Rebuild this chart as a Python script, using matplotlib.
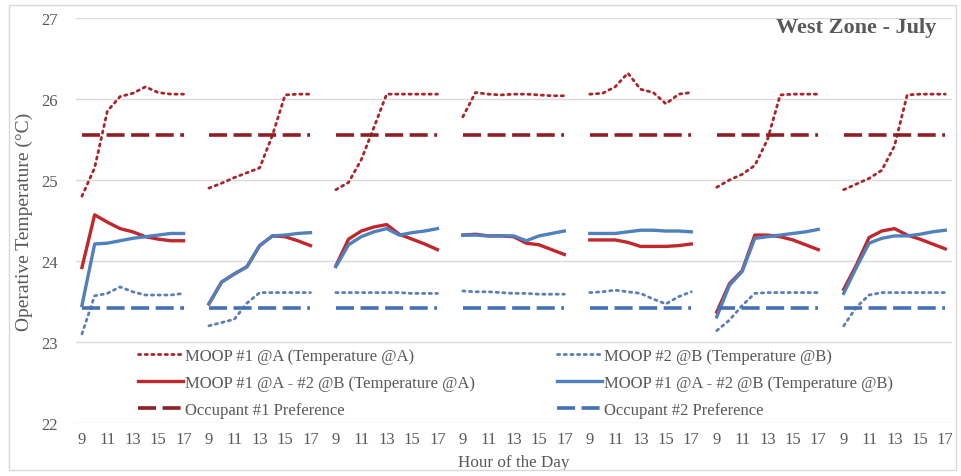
import numpy as np
import matplotlib
matplotlib.use("Agg")
import matplotlib.pyplot as plt
from matplotlib.patches import Rectangle

plt.rcParams['font.family'] = ['Liberation Serif', 'DejaVu Serif']

hours = [9, 10, 11, 12, 13, 14, 15, 16, 17]
n_days = 7

# Operative temperature (°C), one row per day, hours 9..17
moop1_A = [
    [24.80, 25.15, 25.85, 26.03, 26.07, 26.15, 26.08, 26.06, 26.06],
    [24.90, 24.96, 25.03, 25.09, 25.15, 25.55, 26.05, 26.06, 26.06],
    [24.88, 24.97, 25.25, 25.65, 26.06, 26.06, 26.06, 26.06, 26.06],
    [25.78, 26.08, 26.06, 26.05, 26.06, 26.06, 26.05, 26.04, 26.04],
    [26.06, 26.07, 26.15, 26.32, 26.12, 26.08, 25.94, 26.06, 26.08],
    [24.91, 25.00, 25.07, 25.18, 25.50, 26.05, 26.06, 26.06, 26.06],
    [24.88, 24.95, 25.02, 25.12, 25.42, 26.05, 26.06, 26.06, 26.06],
]
moop2_B = [
    [23.10, 23.57, 23.60, 23.68, 23.62, 23.58, 23.58, 23.58, 23.60],
    [23.20, 23.24, 23.28, 23.48, 23.61, 23.61, 23.61, 23.61, 23.61],
    [23.61, 23.61, 23.61, 23.61, 23.61, 23.61, 23.60, 23.60, 23.60],
    [23.63, 23.62, 23.62, 23.61, 23.60, 23.60, 23.59, 23.59, 23.59],
    [23.61, 23.62, 23.64, 23.62, 23.60, 23.53, 23.47, 23.56, 23.62],
    [23.14, 23.27, 23.45, 23.60, 23.61, 23.61, 23.61, 23.61, 23.61],
    [23.20, 23.43, 23.58, 23.61, 23.61, 23.61, 23.61, 23.61, 23.61],
]
moop12_A = [
    [23.92, 24.57, 24.48, 24.40, 24.36, 24.30, 24.27, 24.25, 24.25],
    [23.47, 23.74, 23.84, 23.93, 24.19, 24.31, 24.30, 24.25, 24.19],
    [23.94, 24.27, 24.37, 24.42, 24.45, 24.33, 24.27, 24.21, 24.14],
    [24.32, 24.33, 24.31, 24.31, 24.30, 24.22, 24.20, 24.14, 24.08],
    [24.26, 24.26, 24.26, 24.23, 24.18, 24.18, 24.18, 24.19, 24.21],
    [23.37, 23.72, 23.88, 24.32, 24.32, 24.30, 24.26, 24.20, 24.14],
    [23.65, 23.95, 24.29, 24.37, 24.40, 24.32, 24.27, 24.21, 24.15],
]
moop12_B = [
    [23.45, 24.21, 24.22, 24.25, 24.28, 24.30, 24.32, 24.34, 24.34],
    [23.47, 23.74, 23.84, 23.93, 24.19, 24.31, 24.32, 24.34, 24.35],
    [23.93, 24.20, 24.30, 24.36, 24.40, 24.32, 24.35, 24.37, 24.40],
    [24.32, 24.32, 24.31, 24.31, 24.31, 24.25, 24.31, 24.34, 24.37],
    [24.34, 24.34, 24.34, 24.36, 24.38, 24.38, 24.37, 24.37, 24.36],
    [23.31, 23.70, 23.87, 24.28, 24.30, 24.32, 24.34, 24.36, 24.39],
    [23.60, 23.92, 24.22, 24.28, 24.31, 24.31, 24.33, 24.36, 24.38],
]
occ1_pref = 25.55
occ2_pref = 23.42

labels = [
    "MOOP #1 @A (Temperature @A)",
    "MOOP #1 @A - #2 @B (Temperature @A)",
    "Occupant #1 Preference",
    "MOOP #2 @B (Temperature @B)",
    "MOOP #1 @A - #2 @B (Temperature @B)",
    "Occupant #2 Preference",
]


def flatten_days(rows):
    """Lay the days side by side with one empty slot between them."""
    arr = np.full((n_days, len(hours) + 1), np.nan)
    arr[:, :len(hours)] = np.asarray(rows, dtype=float)
    return arr.ravel()[:-1]


def const_rows(value):
    return [[value] * len(hours) for _ in range(n_days)]


x = np.arange(n_days * (len(hours) + 1) - 1)
hour_labels = [str(hours[i % 10]) if i % 10 < len(hours) else "" for i in x]

W, H = 961, 477
fig = plt.figure(figsize=(W / 100, H / 100), dpi=100)
ax = fig.add_axes([75.6 / W, 53 / H, 876 / W, 405 / H])

red_dot = '#A8252B'
red_line = '#C0282E'
red_dash = '#8E1F24'
blue_dot = '#5A7FB8'
blue_line = '#4F81BD'
blue_dash = '#4470B4'
text_col = '#595959'

dot_style = (0, (0.8, 1.6))
dash_style = (0, (5, 1.8))

l1, = ax.plot(x, flatten_days(moop1_A), color=red_dot, lw=2.0,
              linestyle=dot_style, dash_capstyle='round')
l2, = ax.plot(x, flatten_days(moop12_A), color=red_line, lw=2.4)
l3, = ax.plot(x, flatten_days(const_rows(occ1_pref)), color=red_dash, lw=2.6,
              linestyle=dash_style)
l4, = ax.plot(x, flatten_days(moop2_B), color=blue_dot, lw=2.0,
              linestyle=dot_style, dash_capstyle='round')
l5, = ax.plot(x, flatten_days(moop12_B), color=blue_line, lw=2.4)
l6, = ax.plot(x, flatten_days(const_rows(occ2_pref)), color=blue_dash, lw=2.6,
              linestyle=dash_style)

ax.set_xlim(-0.5, x[-1] + 0.5)
ax.set_ylim(22, 27)
ax.set_yticks([22, 23, 24, 25, 26, 27])
ax.set_xticks(x[::2])
ax.set_xticklabels([hour_labels[i] for i in x[::2]])
ax.grid(axis='y', color='#D9D9D9', lw=1)
ax.set_axisbelow(True)
for s in ax.spines.values():
    s.set_visible(False)
ax.tick_params(axis='both', length=0, colors=text_col, labelsize=12)
ax.tick_params(axis='y', pad=13)
ax.tick_params(axis='x', pad=6)

ax.set_ylabel("Operative Temperature (°C)", fontsize=14, color=text_col, labelpad=6)
ax.set_xlabel("Hour of the Day", fontsize=12.3, color=text_col, labelpad=5)

ax.text(0.983, 0.978, "West Zone - July", transform=ax.transAxes, ha='right',
        va='center', fontsize=16, fontweight='bold', color=text_col)

leg_kw = dict(frameon=False, fontsize=12, handlelength=2.7, handletextpad=0.12,
              labelspacing=0.65, borderpad=0, borderaxespad=0, loc='upper left',
              bbox_transform=fig.transFigure, labelcolor=text_col)
leg1 = ax.legend([l1, l2, l3], labels[:3], bbox_to_anchor=(138 / W, 1 - 349 / H), **leg_kw)
ax.add_artist(leg1)
ax.legend([l4, l5, l6], labels[3:], bbox_to_anchor=(557 / W, 1 - 349 / H), **leg_kw)

fig.patches.append(Rectangle((9 / W, 6 / H), 947 / W, 465 / H, transform=fig.transFigure,
                             fill=False, edgecolor='#D9D9D9', lw=1))

fig.savefig("out.png", dpi=100, facecolor='white')
